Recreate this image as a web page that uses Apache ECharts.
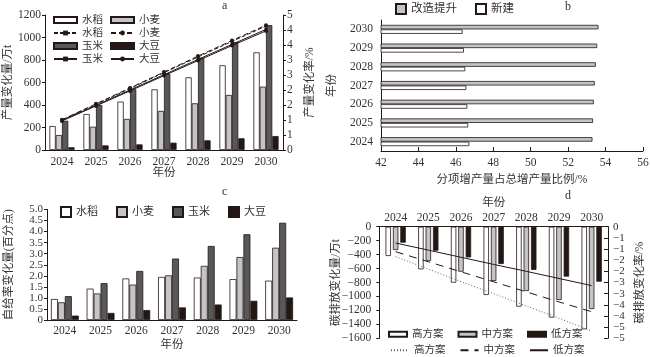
<!DOCTYPE html>
<html><head><meta charset="utf-8">
<script src="https://cdn.jsdelivr.net/npm/echarts@6.0.0/dist/echarts.min.js"></script>
<style>html,body{margin:0;padding:0;background:#fff}#c{width:650px;height:357px}</style>
</head><body><div id="c"></div>
<script>
const years = ['2024','2025','2026','2027','2028','2029','2030'];
// panel a
const aRice = [213,320,430,539,646,753,868];
const aWheat = [133,207,276,347,415,489,563];
const aCorn = [260,400,540,680,820,960,1110];
const aSoy = [24,41,50,65,86,104,124];
const aRiceRate = [1.0,1.52,2.05,2.58,3.1,3.62,4.13];
const aWheatRate = [1.01,1.54,2.07,2.6,3.13,3.65,4.16];
const aCornRate = [0.98,1.49,2.0,2.51,3.02,3.52,4.02];
const aSoyRate = [0.97,1.47,1.97,2.48,2.98,3.48,3.97];
// panel b
const bUpgrade = [53.30,53.33,53.37,53.42,53.48,53.55,53.62];
const bNew = [46.72,46.66,46.61,46.56,46.5,46.43,46.36];
// panel c
const cRice = [0.95,1.42,1.88,1.95,1.92,1.85,1.78];
const cWheat = [0.8,1.2,1.6,2.02,2.45,2.85,3.27];
const cCorn = [1.08,1.67,2.22,2.78,3.35,3.88,4.40];
const cSoy = [0.2,0.32,0.45,0.57,0.7,0.87,1.02];
// panel d
const dHigh = [-420,-611,-802,-979,-1146,-1304,-1471];
const dMid = [-334,-492,-645,-778,-922,-1050,-1180];
const dLow = [-229,-344,-440,-535,-620,-716,-788];
const dHighRate = [-1.34,-1.9,-2.46,-3.0,-3.55,-4.1,-4.68];
const dMidRate = [-1.12,-1.57,-2.02,-2.47,-2.92,-3.37,-3.81];
const dLowRate = [-0.73,-1.05,-1.37,-1.69,-2.0,-2.32,-2.64];

const FONT = "'Liberation Serif','Noto Sans CJK SC',serif";
const TC = '#333';
const LC = '#231815';
const GRAY = '#c4c4c4';
const DARK = '#58585a';
const lab = (extra) => Object.assign({color:TC, fontFamily:FONT, fontSize:11.5, showMinLabel:true, showMaxLabel:true, hideOverlap:false, interval:0}, extra||{});
const axLine = {show:true, onZero:false, lineStyle:{color:LC, width:1}};
const nameStyle = {color:TC, fontFamily:FONT, fontSize:11.5};
const noSplit = {show:false};
const tickOut = {show:true, length:3, lineStyle:{color:LC}};
const tickIn = {show:true, inside:true, length:4, lineStyle:{color:LC}};
const minus = v => String(v).replace('-', '\u2212');
const strip = n => n.replace(/^[abcd]/, '').replace(/L$/, '');
const legText = {color:TC, fontFamily:FONT, fontSize:10.5};
const bar = (name, data, color, xi, yi, extra) => Object.assign({
  name, type:'bar', xAxisIndex:xi, yAxisIndex:yi, data,
  itemStyle:{color, borderColor:LC, borderWidth:0.8}
}, extra||{});
const nm = (name, gap, rot) => {
  const o = {name, nameLocation:'middle', nameGap:gap, nameTextStyle:nameStyle, nameMoveOverlap:false};
  if (rot) o.nameRotate = rot;
  return o;
};

const option = {
  animation:false,
  backgroundColor:'#fff',
  title:[
    {text:'a', left:222, top:0, padding:0, textStyle:{fontSize:12, fontWeight:'normal', fontFamily:FONT, color:TC}},
    {text:'b', left:565, top:1, padding:0, textStyle:{fontSize:12, fontWeight:'normal', fontFamily:FONT, color:TC}},
    {text:'c', left:222, top:186, padding:0, textStyle:{fontSize:12, fontWeight:'normal', fontFamily:FONT, color:TC}},
    {text:'d', left:565, top:190, padding:0, textStyle:{fontSize:12, fontWeight:'normal', fontFamily:FONT, color:TC}}
  ],
  grid:[
    {left:45, top:15, width:238, height:135, outerBoundsMode:'none'},
    {left:381, top:20, width:262, height:131, outerBoundsMode:'none'},
    {left:47, top:209.5, width:250, height:110.5, outerBoundsMode:'none'},
    {left:379.3, top:226.7, width:228.7, height:111.6, outerBoundsMode:'none'}
  ],
  legend:[
    {left:53, top:14, orient:'vertical', padding:0, itemWidth:23, itemHeight:6, itemGap:1, selectedMode:false,
     textStyle:Object.assign({lineHeight:12}, legText), formatter:strip,
     data:[{name:'a水稻',icon:'rect'},'a水稻L',{name:'a玉米',icon:'rect'},'a玉米L']},
    {left:110, top:14, orient:'vertical', padding:0, itemWidth:23, itemHeight:6, itemGap:1, selectedMode:false,
     textStyle:Object.assign({lineHeight:12}, legText), formatter:strip,
     data:[{name:'a小麦',icon:'rect'},'a小麦L',{name:'a大豆',icon:'rect'},'a大豆L']},
    {left:395, top:3, padding:0, itemWidth:10, itemHeight:10, itemGap:18, selectedMode:false,
     textStyle:Object.assign({}, legText, {fontSize:11.5}), formatter:strip,
     data:[{name:'b改造提升',icon:'rect'},{name:'b新建',icon:'rect'}]},
    {left:60, top:206, padding:0, itemWidth:10, itemHeight:10, itemGap:18, selectedMode:false,
     textStyle:Object.assign({}, legText, {fontSize:11}), formatter:strip,
     data:[{name:'c水稻',icon:'rect'},{name:'c小麦',icon:'rect'},{name:'c玉米',icon:'rect'},{name:'c大豆',icon:'rect'}]},
    {left:388, top:329, padding:0, itemWidth:18, itemHeight:5, itemGap:14, selectedMode:false,
     textStyle:legText, formatter:strip,
     data:[{name:'d高方案',icon:'rect'},{name:'d中方案',icon:'rect'},{name:'d低方案',icon:'rect'}]},
    {left:390, top:345, padding:0, itemWidth:18, itemHeight:5, itemGap:14, selectedMode:false,
     textStyle:legText, formatter:strip, itemStyle:{opacity:0},
     data:['d高方案L','d中方案L','d低方案L']}
  ],
  xAxis:[
    Object.assign({gridIndex:0, type:'category', data:years, axisLine:axLine, axisTick:{show:false}, axisLabel:lab({margin:6})}, nm('年份', 17)),
    Object.assign({gridIndex:1, type:'value', min:42, max:56, interval:2, axisLine:axLine, axisTick:tickIn, splitLine:noSplit,
     axisLabel:lab({margin:6})}, nm('分项增产量占总增产量比例/%', 23)),
    Object.assign({gridIndex:2, type:'category', data:years, axisLine:axLine, axisTick:{show:false}, axisLabel:lab({margin:5})}, nm('年份', 19)),
    Object.assign({gridIndex:3, type:'category', data:years, position:'top', axisLine:axLine, axisTick:{show:false}, axisLabel:lab({margin:3})}, nm('年份', 18))
  ],
  yAxis:[
    Object.assign({gridIndex:0, type:'value', min:0, max:1200, interval:200, position:'left', axisLine:axLine, axisTick:tickOut, splitLine:noSplit,
     axisLabel:lab({margin:4, formatter:v=>String(v)})}, nm('产量变化量/万t', 31, 90)),
    Object.assign({gridIndex:0, type:'value', min:0, max:4.5, interval:0.5, position:'right', axisLine:axLine, axisTick:tickOut, splitLine:noSplit,
     axisLabel:lab({margin:4, formatter:v=>String(Math.round(v))})}, nm('产量变化率/%', 21, 90)),
    Object.assign({gridIndex:1, type:'category', data:years, axisLine:axLine, axisTick:{show:false}, axisLabel:lab({margin:8})}, nm('年份', 43, 90)),
    Object.assign({gridIndex:2, type:'value', min:0, max:5, interval:0.5, axisLine:axLine, axisTick:tickOut, splitLine:noSplit,
     axisLabel:lab({margin:4, fontSize:11, lineHeight:10, formatter:v=> v===0?'0':v.toFixed(1)})}, nm('自给率变化量(百分点)', 32, 90)),
    Object.assign({gridIndex:3, type:'value', min:-1600, max:0, interval:200, axisLine:axLine, axisTick:tickOut, splitLine:noSplit,
     axisLabel:lab({margin:8, formatter:minus})}, nm('碳排放变化量/万t', 38, 90)),
    Object.assign({gridIndex:3, type:'value', min:-5, max:0, interval:0.5, position:'right', axisLine:axLine, axisTick:tickIn, splitLine:noSplit,
     axisLabel:lab({margin:5, fontSize:11, lineHeight:10, formatter:v=> v===0?'0':'\u2212'+Math.round(-v)})}, nm('碳排放变化率/%', 26, 90))
  ],
  series:[
    bar('a水稻', aRice, '#fff', 0, 0, {barGap:'0%', barCategoryGap:'26%'}),
    bar('a小麦', aWheat, GRAY, 0, 0, {barGap:'0%', barCategoryGap:'26%'}),
    bar('a玉米', aCorn, DARK, 0, 0, {barGap:'0%', barCategoryGap:'26%'}),
    bar('a大豆', aSoy, LC, 0, 0, {barGap:'0%', barCategoryGap:'26%'}),
    {name:'a水稻L', type:'line', xAxisIndex:0, yAxisIndex:1, data:aRiceRate, symbol:'rect', symbolSize:3, z:5,
     lineStyle:{color:LC, width:1, type:[4,2]}, itemStyle:{color:LC}},
    {name:'a小麦L', type:'line', xAxisIndex:0, yAxisIndex:1, data:aWheatRate, symbol:'circle', symbolSize:4, z:5,
     lineStyle:{color:LC, width:1, type:[5,3]}, itemStyle:{color:LC}},
    {name:'a玉米L', type:'line', xAxisIndex:0, yAxisIndex:1, data:aCornRate, symbol:'rect', symbolSize:3, z:5,
     lineStyle:{color:LC, width:1}, itemStyle:{color:LC}},
    {name:'a大豆L', type:'line', xAxisIndex:0, yAxisIndex:1, data:aSoyRate, symbol:'circle', symbolSize:4, z:5,
     lineStyle:{color:LC, width:1}, itemStyle:{color:LC}},

    bar('b改造提升', bUpgrade, GRAY, 1, 2, {barGap:'0%', barCategoryGap:'52%'}),
    bar('b新建', bNew, '#fff', 1, 2, {barGap:'0%', barCategoryGap:'52%'}),

    bar('c水稻', cRice, '#fff', 2, 3, {barGap:'0%', barCategoryGap:'22%'}),
    bar('c小麦', cWheat, GRAY, 2, 3, {barGap:'0%', barCategoryGap:'22%'}),
    bar('c玉米', cCorn, DARK, 2, 3, {barGap:'0%', barCategoryGap:'22%'}),
    bar('c大豆', cSoy, LC, 2, 3, {barGap:'0%', barCategoryGap:'22%'}),

    bar('d高方案', dHigh, '#fff', 3, 4, {barGap:'36%', barCategoryGap:'38%'}),
    bar('d中方案', dMid, GRAY, 3, 4, {barGap:'36%', barCategoryGap:'38%'}),
    bar('d低方案', dLow, LC, 3, 4, {barGap:'36%', barCategoryGap:'38%'}),
    {name:'d高方案L', type:'line', xAxisIndex:3, yAxisIndex:5, data:dHighRate, symbol:'none', z:5,
     lineStyle:{color:'#666', width:1, type:[1,2]}},
    {name:'d中方案L', type:'line', xAxisIndex:3, yAxisIndex:5, data:dMidRate, symbol:'none', z:5,
     lineStyle:{color:LC, width:1, type:[8,6]}},
    {name:'d低方案L', type:'line', xAxisIndex:3, yAxisIndex:5, data:dLowRate, symbol:'none', z:5,
     lineStyle:{color:LC, width:1}}
  ]
};
const chart = echarts.init(document.getElementById('c'), null, {renderer:'canvas'});
chart.setOption(option);
</script>
</body></html>
